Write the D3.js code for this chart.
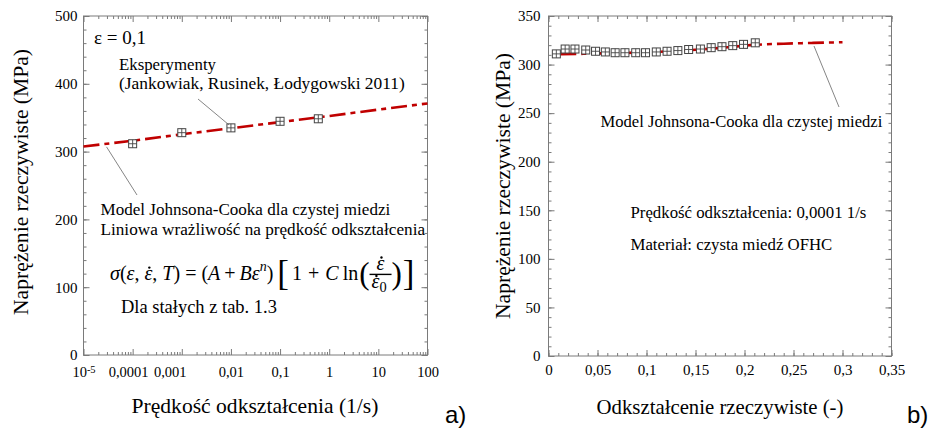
<!DOCTYPE html>
<html><head><meta charset="utf-8">
<script src="https://cdn.jsdelivr.net/npm/d3@7"></script>
<style>
html,body{margin:0;padding:0;background:#fff;}
svg{display:block;}
text{font-family:"Liberation Serif";fill:#000;}
</style></head><body>
<svg id="chart" width="945" height="430"></svg>
<script>
// ---------------- data ----------------
// panel a) stress vs strain rate (log axis)
const rateTicks = [1e-5, 1e-4, 1e-3, 1e-2, 1e-1, 1, 10, 100];
const rateTickLabels = ["10", "0,0001", "0,001", "0,01", "0,1", "1", "10", "100"];
const stressTicksA = [0, 100, 200, 300, 400, 500];
const expRates = [0.0001, 0.001, 0.01, 0.1, 0.6];
const expStressA = [311.6, 327.9, 335.0, 344.7, 348.4];
const modelRates = [1e-5, 1e-4, 1e-3, 1e-2, 1e-1, 1, 10, 100];
const modelStressA = [307.5, 316, 325.5, 334.5, 343.5, 352.5, 362, 371];

// panel b) stress vs true strain
const strainTicks = [0, 0.05, 0.1, 0.15, 0.2, 0.25, 0.3, 0.35];
const strainTickLabels = ["0", "0,05", "0,1", "0,15", "0,2", "0,25", "0,3", "0,35"];
const stressTicksB = [0, 50, 100, 150, 200, 250, 300, 350];
const expStrain = [0.008, 0.017, 0.027, 0.038, 0.048, 0.058, 0.068, 0.078, 0.089, 0.099,
                   0.110, 0.121, 0.132, 0.143, 0.155, 0.166, 0.177, 0.188, 0.199, 0.211];
const expStressB = [311, 316, 316, 315, 313.7, 313, 312.2, 312.2, 312.2, 312.2,
                    313, 313.7, 314.4, 315.5, 316, 317.4, 318.4, 319.5, 320.8, 322.4];
const modelStrain = [0.012, 0.03, 0.06, 0.09, 0.12, 0.15, 0.18, 0.21, 0.24, 0.27, 0.30];
const modelStressB = [310.8, 311, 311.6, 312.3, 313.5, 315.2, 317.5, 320.3, 321.5, 322.3, 323];

// ---------------- drawing ----------------
const svg = d3.select("#chart");
const AX = "#7a7a7a";
const RED = "#c00000";
const SERIF = '"Liberation Serif"';

function logMinors(lo, hi) {
  const out = [];
  for (let e = Math.log10(lo); e < Math.log10(hi); e++)
    for (let m = 2; m <= 9; m++) out.push(m * Math.pow(10, e));
  return out;
}
function linMinors(lo, hi, step) {
  const out = [];
  for (let v = lo; v <= hi + 1e-9; v += step) out.push(+v.toFixed(6));
  return out;
}

function frame(g, x, y, mx, nx, my, ny, fmtX, fmtY, padX, padY) {
  const [x0, x1] = x.range(), [y0, y1] = y.range();
  const style = sel => {
    sel.attr("font-family", SERIF);
    sel.select(".domain").remove();
    sel.selectAll("line").attr("stroke", AX).attr("stroke-width", 1);
    sel.selectAll("text").style("font-family", SERIF).attr("font-size", 15).attr("fill", "#000");
  };
  const mk = (fn, tr, vals, size, fmt, pad) => {
    const a = fn.tickValues(vals).tickSizeInner(-size).tickSizeOuter(0)
                .tickFormat(fmt || (() => "")).tickPadding(pad || 3);
    return g.append("g").attr("transform", tr).call(a).call(style);
  };
  const bx = mk(d3.axisBottom(x), `translate(0,${y0})`, mx, 6, fmtX, padX);
  mk(d3.axisBottom(x), `translate(0,${y0})`, nx, 3);
  mk(d3.axisTop(x), `translate(0,${y1})`, mx, 6);
  mk(d3.axisTop(x), `translate(0,${y1})`, nx, 3);
  mk(d3.axisLeft(y), `translate(${x0},0)`, my, 6, fmtY, padY);
  mk(d3.axisLeft(y), `translate(${x0},0)`, ny, 3);
  mk(d3.axisRight(y), `translate(${x1},0)`, my, 6);
  mk(d3.axisRight(y), `translate(${x1},0)`, ny, 3);
  g.append("rect").attr("x", x0).attr("y", y1).attr("width", x1 - x0).attr("height", y0 - y1)
    .attr("fill", "none").attr("stroke", AX).attr("stroke-width", 1);
  return bx;
}

function markers(g, xs, ys, x, y, s) {
  const m = g.selectAll(null).data(xs.map((d, i) => [d, ys[i]])).join("g")
    .attr("transform", d => `translate(${x(d[0])},${y(d[1])})`);
  m.append("rect").attr("x", -s / 2).attr("y", -s / 2).attr("width", s).attr("height", s)
    .attr("fill", "#fff").attr("stroke", "#444").attr("stroke-width", 1);
  m.append("path").attr("d", `M${-s / 2},0H${s / 2}M0,${-s / 2}V${s / 2}`)
    .attr("stroke", "#444").attr("stroke-width", 0.9);
}

function leader(g, x1, y1, x2, y2) {
  g.append("line").attr("x1", x1).attr("y1", y1).attr("x2", x2).attr("y2", y2)
    .attr("stroke", "#666").attr("stroke-width", 0.8);
}
// text whose font size is tuned so that its rendered width matches the reference width
function label(g, x, y, s, fs, width, extra) {
  const t = g.append("text").attr("x", x).attr("y", y).attr("font-size", fs)
    .style("white-space", "pre").style("font-family", SERIF).text(s);
  if (width) {
    const m = t.node().getComputedTextLength();
    t.attr("font-size", (fs * width / m).toFixed(2));
  }
  if (extra) extra(t);
  return t;
}

// ======== panel a ========
const ga = svg.append("g");
const xA = d3.scaleLog().domain([1e-5, 100]).range([83.5, 427.5]);
const yA = d3.scaleLinear().domain([0, 500]).range([355, 16]);
const bxA = frame(ga, xA, yA, rateTicks, logMinors(1e-5, 100), stressTicksA, linMinors(0, 500, 20),
  d => rateTickLabels[rateTicks.indexOf(d)], d => String(d), 12, 6);
bxA.selectAll(".tick text")
  .attr("font-size", 14.5)
  .attr("dx", d => d === 1e-3 ? -12 : d === 1e-4 ? -4.5 : 0)
  .each(function (d) {
    if (d === 1e-5) d3.select(this).append("tspan").attr("dy", "-0.45em").attr("font-size", 10.5).text("-5");
  });

const lineA = d3.line().x(d => xA(d[0])).y(d => yA(d[1]));
ga.append("path").datum(modelRates.map((d, i) => [d, modelStressA[i]]))
  .attr("d", lineA).attr("fill", "none").attr("stroke", RED).attr("stroke-width", 2.6)
  .attr("stroke-dasharray", "16,5,5,5");
markers(ga, expRates, expStressA, xA, yA, 8);

leader(ga, 198, 99, xA(0.01) - 2, yA(expStressA[2]) - 3);
leader(ga, 106.5, yA(308.5) + 1, 137, 195);

label(ga, 94, 44, "ε = 0,1", 20, 52);
label(ga, 119, 70, "Eksperymenty", 16, 97);
label(ga, 119, 89, "(Jankowiak, Rusinek, Łodygowski 2011)", 16, 286);
label(ga, 100.5, 215, "Model Johnsona-Cooka dla czystej miedzi", 16, 290);
label(ga, 100.5, 235, "Liniowa wrażliwość na prędkość odkształcenia", 16, 325);
label(ga, 121, 313, "Dla stałych z tab. 1.3", 16, 156);

// formula
(function formula(g, x, base, fs) {
  let cx = x;
  const put = (str, o = {}) => {
    const t = g.append("text").attr("x", cx).attr("y", base + (o.dy || 0))
      .attr("font-size", o.fs || fs).attr("font-style", o.it ? "italic" : "normal")
      .style("white-space", "pre").style("font-family", SERIF).text(str);
    const w = t.node().getComputedTextLength();
    const r = { x: cx, w };
    cx += w + (o.gap || 0);
    return r;
  };
  const dot = (xx, yy) => g.append("circle").attr("cx", xx).attr("cy", yy).attr("r", 1.2).attr("fill", "#000");
  put("σ", { it: 1 }); put("("); put("ε", { it: 1 }); put(", ");
  const e1 = put("ε", { it: 1 }); dot(e1.x + e1.w * 0.62, base - fs * 0.62);
  put(", "); put("T", { it: 1 }); put(")", { gap: 5 }); put("=", { gap: 5 }); put("(");
  put("A", { it: 1, gap: 4 }); put("+", { gap: 4 });
  put("B", { it: 1 }); put("ε", { it: 1 });
  put("n", { it: 1, fs: fs * 0.7, dy: -fs * 0.45 }); put(")", { gap: 4 });
  put("[", { fs: fs * 1.75, dy: fs * 0.27, gap: 3 });
  put("1", { gap: 6 }); put("+", { gap: 6 }); put("C", { it: 1, gap: 4 }); put("ln", { gap: 1 });
  put("(", { fs: fs * 1.55, dy: fs * 0.2, gap: 0 });
  // fraction
  const fw = 22, barY = base - fs * 0.28;
  const fx = cx;
  const num = g.append("text").attr("x", fx + fw / 2).attr("y", barY - 4.5).attr("font-size", fs)
    .attr("font-style", "italic").attr("text-anchor", "middle").style("font-family", SERIF).text("ε");
  const nw = num.node().getComputedTextLength();
  dot(fx + fw / 2 + nw * 0.12, barY - 4.5 - fs * 0.62);
  g.append("line").attr("x1", fx).attr("x2", fx + fw).attr("y1", barY).attr("y2", barY)
    .attr("stroke", "#000").attr("stroke-width", 1.4);
  const dx0 = fx + 2;
  const den = g.append("text").attr("x", dx0).attr("y", barY + 14).attr("font-size", fs)
    .attr("font-style", "italic").style("font-family", SERIF).text("ε");
  const dw = den.node().getComputedTextLength();
  dot(dx0 + dw * 0.62, barY + 14 - fs * 0.62);
  g.append("text").attr("x", dx0 + dw).attr("y", barY + 17.5).attr("font-size", fs * 0.72)
    .style("font-family", SERIF).text("0");
  cx = fx + fw;
  put(")", { fs: fs * 1.55, dy: fs * 0.2, gap: 1 });
  put("]", { fs: fs * 1.75, dy: fs * 0.27 });
})(ga, 110, 280, 20);

const titleA = label(ga, 255, 413, "Prędkość odkształcenia (1/s)", 20, 247, t => t.attr("text-anchor", "middle"));
const titleFs = +titleA.attr("font-size");
label(ga, 0, 0, "Naprężenie rzeczywiste (MPa)", titleFs, null, t => t.attr("text-anchor", "middle")
  .attr("transform", "translate(28,182) rotate(-90)"));
label(ga, 445, 423, "a)", 24, null, t => t.style("font-family", '"Liberation Sans"'));

// ======== panel b ========
const gb = svg.append("g");
const xB = d3.scaleLinear().domain([0, 0.35]).range([548.5, 891.5]);
const yB = d3.scaleLinear().domain([0, 350]).range([356, 16]);
frame(gb, xB, yB, strainTicks, linMinors(0, 0.35, 0.01), stressTicksB, linMinors(0, 350, 10),
  d => strainTickLabels[strainTicks.indexOf(d)], d => String(d), 8, 8);

const lineB = d3.line().x(d => xB(d[0])).y(d => yB(d[1])).curve(d3.curveMonotoneX);
gb.append("path").datum(modelStrain.map((d, i) => [d, modelStressB[i]]))
  .attr("d", lineB).attr("fill", "none").attr("stroke", RED).attr("stroke-width", 2.6)
  .attr("stroke-dasharray", "16,5,5,5");
markers(gb, expStrain, expStressB, xB, yB, 8);

leader(gb, 814, 46, 839, 107);
label(gb, 600.5, 127, "Model Johnsona-Cooka dla czystej miedzi", 16, 282);
label(gb, 630.5, 218, "Prędkość odkształcenia: 0,0001 1/s", 16, 236);
label(gb, 630.5, 250, "Materiał: czysta miedź OFHC", 16, 202);

label(gb, 720, 414, "Odkształcenie rzeczywiste (-)", 20, 247, t => t.attr("text-anchor", "middle"));
label(gb, 0, 0, "Naprężenie rzeczywiste (MPa)", titleFs, null, t => t.attr("text-anchor", "middle")
  .attr("transform", "translate(510,186) rotate(-90)"));
label(gb, 907, 423, "b)", 24, null, t => t.style("font-family", '"Liberation Sans"'));
</script>
</body></html>
